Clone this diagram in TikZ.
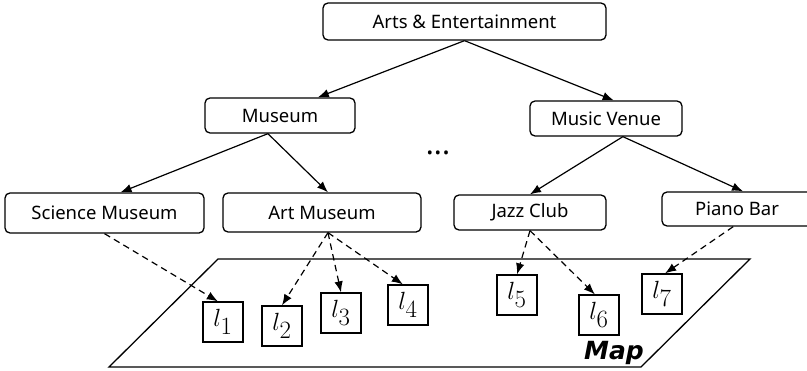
\documentclass[tikz,border=0pt]{standalone}
\usepackage{fontspec}
\setmainfont{Noto Sans}
\newfontfamily\mapfont{DejaVu Sans}
\usetikzlibrary{calc,arrows.meta}
\begin{document}
\begin{tikzpicture}[x=1pt,y=-1pt,
  cat/.style={draw, rounded corners=5pt, line width=1.3pt, inner sep=0pt,
    font=\fontsize{18.5}{20}\selectfont},
  loc/.style={draw, line width=1.3pt, minimum size=40pt, inner sep=0pt,
    font=\fontsize{38}{38}\selectfont},
  isa/.style={-{Latex[length=11pt,width=8.5pt]}, line width=1.2pt},
  link/.style={isa, dash pattern=on 6.5pt off 4.5pt}]
\useasboundingbox (0,0) rectangle (807,370);

% the map plane
\draw[line width=1.3pt] (218,259) -- (750,259) -- (641,367) -- (109,367) -- cycle;
\node[font=\fontsize{25}{25}\selectfont\mapfont\bfseries\itshape, anchor=base] (map) at (614,359) {Map};

% category hierarchy
\node[cat, minimum width=283pt, minimum height=37pt] (ae) at (464.5,21.5) {Arts \& Entertainment};
\node[cat, minimum width=150pt, minimum height=35pt] (mus) at (280,115.5) {Museum};
\node[cat, minimum width=152pt, minimum height=35pt] (mv) at (606,118.5) {Music Venue};
\node[cat, minimum width=199pt, minimum height=40pt] (sm) at (104.5,213) {Science Museum};
\node[cat, minimum width=198pt, minimum height=39pt] (am) at (322,212.5) {Art Museum};
\node[cat, minimum width=152pt, minimum height=35pt] (jc) at (530,212.5) {Jazz Club};
\node[cat, minimum width=150pt, minimum height=34pt] (pb) at (737,209) {Piano Bar};
\node[font=\fontsize{30}{30}\selectfont\bfseries, anchor=base] (dots) at (438,154) {...};

% locations on the map
\node[loc] (l1) at (223,322) {$l_1$};
\node[loc] (l2) at (282,326) {$l_2$};
\node[loc] (l3) at (341,313) {$l_3$};
\node[loc] (l4) at (408,305) {$l_4$};
\node[loc] (l5) at (517,295) {$l_5$};
\node[loc] (l6) at (599,315) {$l_6$};
\node[loc] (l7) at (662,294) {$l_7$};

% is-a edges
\draw[isa] (ae.south) -- ($(mus.north)!0.5!(mus.north east)$);
\draw[isa] (ae.south) -- ($(mv.north)!0.1!(mv.north east)$);
\draw[isa] ($(mus.south)!0.16!(mus.south west)$) -- ($(sm.north)!0.16!(sm.north east)$);
\draw[isa] ($(mus.south)!0.16!(mus.south west)$) -- ($(am.north)!0.06!(am.north east)$);
\draw[isa] ($(mv.south)!0.22!(mv.south east)$) -- (jc.north);
\draw[isa] ($(mv.south)!0.22!(mv.south east)$) -- ($(pb.north)!0.08!(pb.north east)$);

% category-to-location links
\draw[link] (sm.south) -- ($(l1.north)!0.25!(l1.north west)$);
\draw[link] ($(am.south)!0.06!(am.south east)$) -- (l2.north);
\draw[link] ($(am.south)!0.06!(am.south east)$) -- (l3.north);
\draw[link] ($(am.south)!0.06!(am.south east)$) -- ($(l4.north)!0.25!(l4.north west)$);
\draw[link] (jc.south) -- (l5.north);
\draw[link] (jc.south) -- ($(l6.north)!0.2!(l6.north west)$);
\draw[link] ($(pb.south)!0.05!(pb.south west)$) -- ($(l7.north)!0.15!(l7.north east)$);
\end{tikzpicture}
\end{document}
